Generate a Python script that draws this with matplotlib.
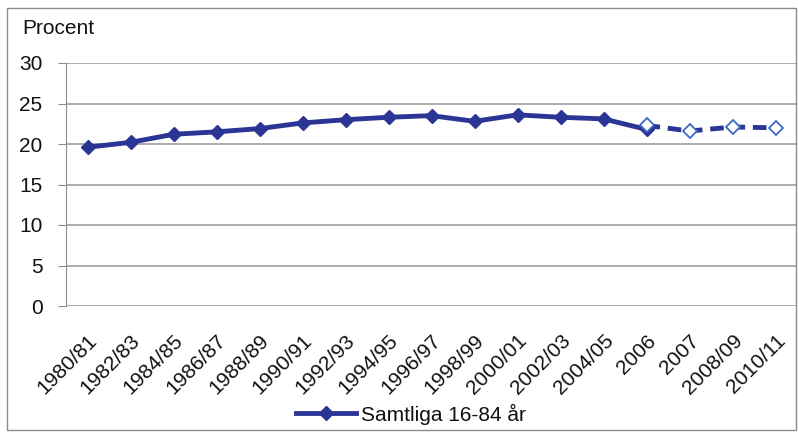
import matplotlib.pyplot as plt
from matplotlib.lines import Line2D
from matplotlib.patches import Rectangle
from matplotlib.transforms import ScaledTranslation

plt.rcParams["font.family"] = ["Liberation Sans", "DejaVu Sans"]

periods = ["1980/81", "1982/83", "1984/85", "1986/87", "1988/89", "1990/91",
           "1992/93", "1994/95", "1996/97", "1998/99", "2000/01", "2002/03",
           "2004/05", "2006", "2007", "2008/09", "2010/11"]
# old survey method (solid), up to 2006
old_values = [19.6, 20.2, 21.2, 21.5, 21.9, 22.6, 23.0, 23.3, 23.5, 22.8,
              23.6, 23.3, 23.1, 21.8]
# new survey method (dashed), from 2006
new_values = [22.3, 21.6, 22.1, 22.0]

line_color = "#2B3595"
open_color = "#3A6BC4"
fs = 15

fig = plt.figure(figsize=(7.98, 4.33), dpi=100)
fig.patches.append(Rectangle((7 / 798, 3 / 433), 789 / 798, 422 / 433,
                             transform=fig.transFigure, fill=False,
                             edgecolor="#8C8C8C", linewidth=1.0))
ax = fig.add_axes([66 / 798, 1 - 306 / 433, 731 / 798, 243 / 433])

x_old = list(range(len(old_values)))
x_new = list(range(len(old_values) - 1, len(periods)))

ax.plot(x_old, old_values, color=line_color, linewidth=3.5, marker="D",
        markersize=7, markerfacecolor=line_color, markeredgecolor=line_color,
        zorder=3)
ax.plot(x_new, new_values, color=line_color, linewidth=3.5, linestyle=(0, (2.8, 1.6)),
        marker="D", markersize=7.5, markerfacecolor="white",
        markeredgecolor=open_color, markeredgewidth=1.3, zorder=4)

ax.set_xlim(-0.5, len(periods) - 0.5)
ax.set_ylim(0, 30)
ax.set_yticks(range(0, 31, 5))
ax.yaxis.grid(True, color="#A6A6A6", linewidth=1.3)
ax.set_axisbelow(True)
ax.set_xticks(range(len(periods)))
ax.set_xticklabels(periods, rotation=45, ha="right", rotation_mode="anchor")
shift = ScaledTranslation(5 / 100, 0, fig.dpi_scale_trans)
for lab in ax.get_xticklabels():
    lab.set_transform(lab.get_transform() + shift)
ax.tick_params(axis="x", length=0, labelsize=fs, pad=18, labelcolor="#111111")
ax.tick_params(axis="y", length=6, color="#8C8C8C", labelsize=fs, pad=11,
               labelcolor="#111111")
for side in ["top", "right", "bottom"]:
    ax.spines[side].set_visible(False)
ax.spines["left"].set_color("#8C8C8C")

fig.text(22 / 798, 1 - 28 / 433, "Procent", fontsize=fs, va="center",
         color="#111111")

handle = Line2D([], [], color=line_color, linewidth=3.5, marker="D",
                markersize=7, markerfacecolor=line_color)
fig.legend([handle], ["Samtliga 16-84 år"], loc="center",
           bbox_to_anchor=(411 / 798, 1 - 414 / 433), frameon=False,
           fontsize=fs, handlelength=2.9, handletextpad=0.25,
           labelcolor="#111111")

fig.savefig("out.png", dpi=100)
